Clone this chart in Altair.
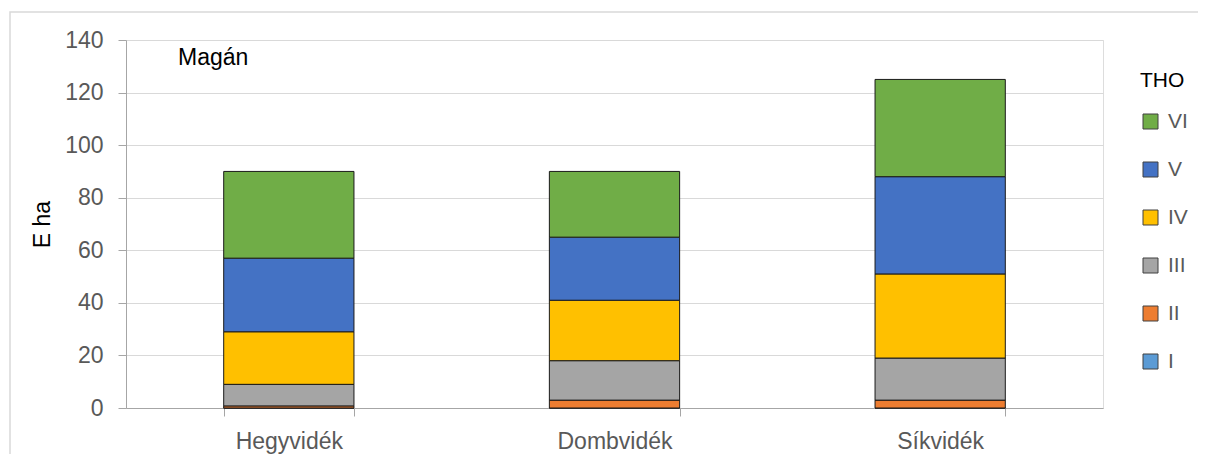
import altair as alt
import pandas as pd

regions = ["Hegyvidék", "Dombvidék", "Síkvidék"]
classes = ["I", "II", "III", "IV", "V", "VI"]
colors = ["#5B9BD5", "#ED7D31", "#A5A5A5", "#FFC000", "#4472C4", "#70AD47"]
vals_I = [0, 0, 0]
vals_II = [0.8, 3, 3]
vals_III = [8.2, 15, 16]
vals_IV = [20, 23, 32]
vals_V = [28, 24, 37]
vals_VI = [33, 25, 37]

series = {"I": vals_I, "II": vals_II, "III": vals_III, "IV": vals_IV, "V": vals_V, "VI": vals_VI}
rows = []
for ci, c in enumerate(classes):
    for ri, r in enumerate(regions):
        rows.append({"region": r, "THO": c, "value": series[c][ri], "ord": ci})
df = pd.DataFrame(rows)

FONT = "Liberation Sans"
W, H = 977, 368

bars = alt.Chart(df).mark_bar(stroke="#1a1a1a", strokeWidth=1).encode(
    x=alt.X("region:N", sort=regions, title=None,
            scale=alt.Scale(paddingInner=0.6, paddingOuter=0.3),
            axis=alt.Axis(labelAngle=0, labelFontSize=23, labelColor="#595959", labelFont=FONT,
                          labelPadding=14, tickBand="extent", tickSize=8, tickColor="#a6a6a6",
                          domainColor="#a6a6a6", grid=False)),
    y=alt.Y("value:Q", stack="zero", title="E ha",
            scale=alt.Scale(domain=[0, 140]),
            axis=alt.Axis(values=[0, 20, 40, 60, 80, 100, 120, 140], labelFontSize=23,
                          labelColor="#595959", labelFont=FONT, tickSize=8, tickColor="#a6a6a6",
                          domainColor="#a6a6a6", gridColor="#d9d9d9", labelPadding=15,
                          titleFont=FONT, titleFontSize=23, titleFontWeight="normal",
                          titleColor="#000000", titlePadding=10)),
    color=alt.Color("THO:N", scale=alt.Scale(domain=list(reversed(classes)), range=list(reversed(colors))),
                    legend=alt.Legend(orient="none", legendX=1014, legendY=30, title="THO",
                                      titleFont=FONT, titleFontSize=21, titleFontWeight="normal",
                                      titleColor="#000000", titlePadding=20,
                                      labelFont=FONT, labelFontSize=21, labelColor="#595959",
                                      symbolType="square", symbolSize=225, symbolStrokeColor="#404040",
                                      symbolStrokeWidth=1, rowPadding=26, labelOffset=7, offset=8)),
    order=alt.Order("ord:Q", sort="ascending"),
)

label = alt.Chart(pd.DataFrame({"t": ["Magán"]})).mark_text(
    align="left", baseline="middle", fontSize=23, font=FONT, color="#000000"
).encode(x=alt.value(52), y=alt.value(18), text="t:N")

frame = alt.Chart(pd.DataFrame({"a": [0]})).mark_rect(
    fill=None, stroke="#d9d9d9", strokeWidth=1.5, clip=False
).encode(x=alt.value(-116), x2=alt.value(1079), y=alt.value(-28), y2=alt.value(440))

chart = alt.layer(frame, bars, label).properties(
    width=W, height=H,
    autosize=alt.AutoSizeParams(type="none"),
    padding={"left": 118, "top": 32, "right": 95, "bottom": 46},
).configure_view(stroke=None).configure(background="white")

chart.save("out.html", embed_options={"renderer": "svg", "actions": False})
